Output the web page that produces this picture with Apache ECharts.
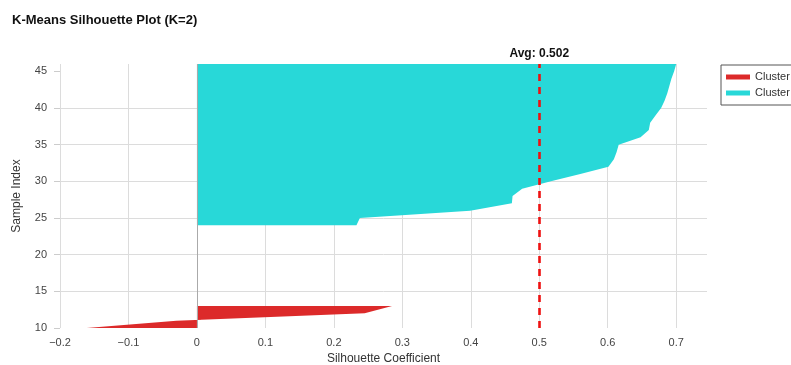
<!DOCTYPE html>
<html>
<head>
<meta charset="utf-8">
<script src="https://cdn.jsdelivr.net/npm/echarts@6/dist/echarts.min.js"></script>
<style>
html,body{margin:0;padding:0;background:#fff;}
#chart{width:791px;height:365px;}
</style>
</head>
<body>
<div id="chart"></div>
<script>
// ---- data ----
var clusterNames = ['Cluster 0', 'Cluster 1'];
var cluster0Index = [10, 11, 12, 13];
var cluster0Values = [-0.161, -0.03, 0.245, 0.285];
var cluster1Index = [24, 25, 26, 27, 28, 29, 30, 31, 32, 33, 34, 35, 36, 37, 38, 39, 40, 41, 42, 43, 44, 45, 46];
var cluster1Values = [0.233, 0.238, 0.399, 0.460, 0.461, 0.475, 0.517, 0.560, 0.601, 0.609, 0.613, 0.616, 0.648, 0.660, 0.662, 0.670, 0.678, 0.683, 0.687, 0.690, 0.693, 0.697, 0.700];
var avgSilhouette = 0.502;
var xTicks = [-0.2, -0.1, 0, 0.1, 0.2, 0.3, 0.4, 0.5, 0.6, 0.7];
var yTicks = [10, 15, 20, 25, 30, 35, 40, 45];

var colors = ['#dc2a2a', '#28d8d8'];
var font = 'Liberation Sans, Arial, Helvetica, sans-serif';

function pairs(idx, vals) {
  return idx.map(function (y, i) { return [vals[i], y]; });
}

function makeRender(points) {
  return function (params, api) {
    if (params.dataIndex !== 0) return null;
    var first = points[0][1], last = points[points.length - 1][1];
    var poly = [api.coord([0, first])];
    points.forEach(function (p) { poly.push(api.coord(p)); });
    poly.push(api.coord([0, last]));
    return {
      type: 'polygon',
      shape: { points: poly },
      style: { fill: api.visual('color') }
    };
  };
}

var c0 = pairs(cluster0Index, cluster0Values);
var c1 = pairs(cluster1Index, cluster1Values);

var chart = echarts.init(document.getElementById('chart'), null, { renderer: 'canvas' });
chart.setOption({
  animation: false,
  backgroundColor: '#fff',
  textStyle: { fontFamily: font },
  title: {
    text: 'K-Means Silhouette Plot (K=2)',
    left: 7, top: 9,
    textStyle: { fontSize: 13, fontWeight: 'bold', color: '#111', fontFamily: font }
  },
  legend: {
    orient: 'vertical',
    left: 721, top: 65,
    data: clusterNames,
    icon: 'rect',
    itemWidth: 24, itemHeight: 5,
    itemGap: 4,
    padding: [6, 40, 6, 5],
    borderColor: '#555', borderWidth: 1,
    textStyle: { fontSize: 11, color: '#333', lineHeight: 12, fontFamily: font }
  },
  grid: { left: 60, right: 84, top: 64, bottom: 37, containLabel: false, outerBoundsMode: 'none' },
  xAxis: {
    type: 'value',
    min: -0.2, max: 0.745, interval: 0.1,
    name: 'Silhouette Coefficient',
    nameLocation: 'middle', nameGap: 23,
    nameTextStyle: { fontSize: 12, color: '#333', fontFamily: font },
    axisLine: { show: false, onZero: false },
    axisTick: { show: false },
    axisLabel: {
      fontSize: 11, color: '#444', margin: 9, fontFamily: font,
      customValues: xTicks,
      formatter: function (v) { var s = String(Math.round(v * 10) / 10); return s.replace('-', '\u2212'); }
    },
    splitLine: { show: true, showMaxLine: false, lineStyle: { color: '#dcdcdc', width: 1 } }
  },
  yAxis: {
    type: 'value',
    min: 10, max: 46, interval: 5,
    name: 'Sample Index',
    nameLocation: 'middle', nameGap: 37,
    nameTextStyle: { fontSize: 12, color: '#333', fontFamily: font },
    axisLine: { show: false, onZero: false },
    axisTick: { show: true, inside: false, length: 6, lineStyle: { color: '#cccccc', width: 1 }, customValues: yTicks },
    axisLabel: { fontSize: 11, color: '#444', margin: 13, customValues: yTicks, fontFamily: font },
    splitLine: { show: true, showMinLine: false, showMaxLine: false, lineStyle: { color: '#dcdcdc', width: 1 } }
  },
  series: [
    {
      type: 'line', name: 'zero', data: [], z: 1, silent: true,
      markLine: {
        silent: true, symbol: 'none', animation: false,
        label: { show: false },
        lineStyle: { color: '#aaa', width: 1, type: 'solid' },
        data: [{ xAxis: 0 }]
      }
    },
    {
      type: 'custom', name: clusterNames[0], z: 2,
      itemStyle: { color: colors[0] },
      renderItem: makeRender(c0),
      data: c0
    },
    {
      type: 'custom', name: clusterNames[1], z: 2,
      itemStyle: { color: colors[1] },
      renderItem: makeRender(c1),
      data: c1
    },
    {
      type: 'line', name: 'avg', data: [], z: 3, silent: true,
      markLine: {
        silent: true, symbol: 'none', animation: false,
        lineStyle: { color: '#ee1111', width: 2.6, type: [7, 6] },
        label: {
          show: true, position: 'end', distance: 4,
          formatter: 'Avg: ' + avgSilhouette.toFixed(3),
          fontSize: 12, fontWeight: 'bold', color: '#111', fontFamily: font
        },
        data: [{ xAxis: avgSilhouette }]
      }
    }
  ]
});
</script>
</body>
</html>
